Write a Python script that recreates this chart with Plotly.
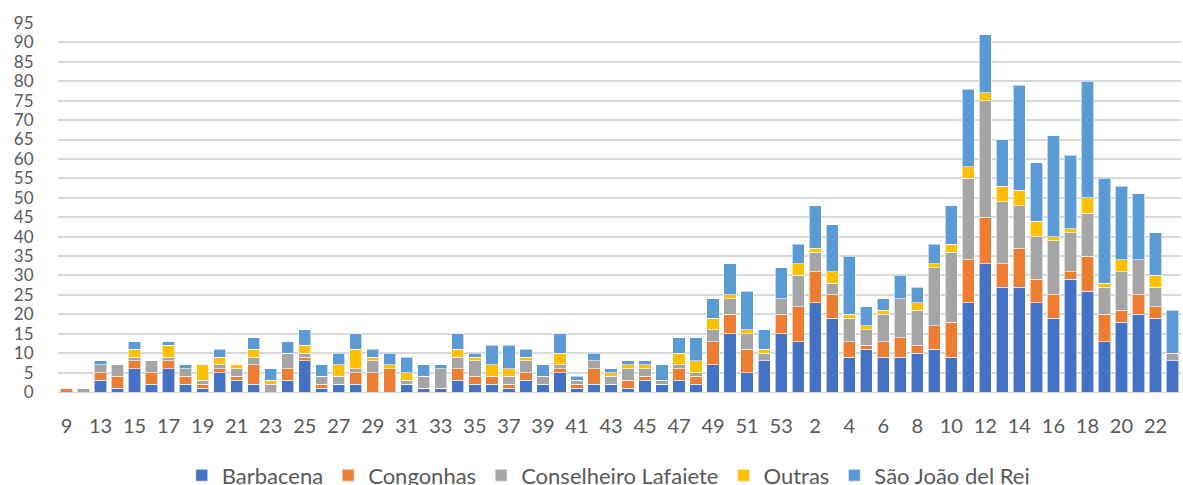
import plotly.graph_objects as go

weeks = [9, 11] + list(range(13, 54)) + list(range(1, 24))

barbacena = [0, 0, 3, 1, 6, 2, 6, 2, 1, 5, 3, 2, 0, 3, 8, 1, 2, 2, 0, 0, 2, 1, 1, 3, 2, 2, 1, 3, 2, 5, 1,
             2, 2, 1, 3, 2, 3, 2, 7, 15, 5, 8, 15,
             13, 23, 19, 9, 11, 9, 9, 10, 11, 9, 23, 33, 27, 27, 23, 19, 29, 26, 13, 18, 20, 19, 8]
congonhas = [1, 0, 2, 3, 2, 3, 2, 2, 1, 1, 1, 5, 0, 3, 1, 1, 0, 3, 5, 6, 0, 0, 0, 3, 2, 2, 1, 2, 0, 1, 1,
             4, 0, 2, 1, 0, 3, 2, 6, 5, 6, 0, 5,
             9, 8, 6, 4, 1, 4, 5, 2, 6, 9, 11, 12, 6, 10, 6, 6, 2, 9, 7, 3, 5, 3, 0]
lafaiete = [0, 1, 2, 3, 1, 3, 1, 2, 1, 1, 2, 2, 2, 4, 1, 2, 2, 1, 3, 0, 1, 3, 5, 3, 4, 0, 2, 3, 2, 1, 1,
            2, 2, 3, 2, 1, 1, 1, 3, 4, 4, 2, 4,
            8, 5, 3, 6, 4, 7, 10, 9, 15, 18, 21, 30, 16, 11, 11, 14, 10, 11, 7, 10, 9, 5, 2]
outras = [0, 0, 0, 0, 2, 0, 3, 0, 4, 2, 1, 2, 1, 0, 2, 0, 3, 5, 1, 1, 2, 0, 0, 2, 1, 3, 2, 1, 0, 3, 0,
          0, 1, 1, 1, 0, 3, 3, 3, 1, 1, 1, 0,
          3, 1, 3, 1, 1, 1, 0, 2, 1, 2, 3, 2, 4, 4, 4, 1, 1, 4, 1, 3, 0, 3, 0]
sao_joao = [0, 0, 1, 0, 2, 0, 1, 1, 0, 2, 0, 3, 3, 3, 4, 3, 3, 4, 2, 3, 4, 3, 1, 4, 1, 5, 6, 2, 3, 5, 1,
            2, 1, 1, 1, 4, 4, 6, 5, 8, 10, 5, 8,
            5, 11, 12, 15, 5, 3, 6, 4, 5, 10, 20, 15, 12, 27, 15, 26, 19, 30, 27, 19, 17, 11, 11]

series = [
    ("Barbacena", barbacena, "#4472C4"),
    ("Congonhas", congonhas, "#ED7D31"),
    ("Conselheiro Lafaiete", lafaiete, "#A5A5A5"),
    ("Outras", outras, "#FFC000"),
    ("São João del Rei", sao_joao, "#5B9BD5"),
]

x = list(range(len(weeks)))

fig = go.Figure()
for name, vals, color in series:
    fig.add_trace(go.Bar(
        x=x, y=vals, name=name,
        marker=dict(color=color, line=dict(color="rgba(255,255,255,0.6)", width=1)),
    ))

font = "Lato, 'Open Sans', sans-serif"
fig.update_layout(
    barmode="stack",
    bargap=0.28,
    width=1183, height=485,
    margin=dict(l=58, r=2, t=23, b=93, autoexpand=False),
    plot_bgcolor="white",
    paper_bgcolor="white",
    font=dict(family=font, size=18, color="#595959"),
    legend=dict(orientation="h", x=0.49, xanchor="center", y=-0.226, yanchor="middle",
                font=dict(size=22, color="#595959"), traceorder="normal",
                itemwidth=30),
    xaxis=dict(
        tickmode="array", tickvals=x[::2], ticktext=[str(w) for w in weeks[::2]],
        range=[-0.5, len(weeks) - 0.5], automargin=False,
        showgrid=False, showline=True, linecolor="#D9D9D9", linewidth=1,
        ticks="outside", ticklen=16, tickcolor="rgba(0,0,0,0)",
        tickfont=dict(size=20, color="#595959"),
    ),
    yaxis=dict(
        range=[0, 95], dtick=5, tick0=0, automargin=False,
        showgrid=True, gridcolor="#D9D9D9", gridwidth=1.5,
        zeroline=False, showline=False,
        ticks="outside", ticklen=20, tickcolor="rgba(0,0,0,0)",
        tickfont=dict(size=17, color="#595959"),
    ),
)

fig.write_html("out.html", config={"displayModeBar": False},
               post_script="document.body.style.margin='0px';document.body.style.overflow='hidden';")
